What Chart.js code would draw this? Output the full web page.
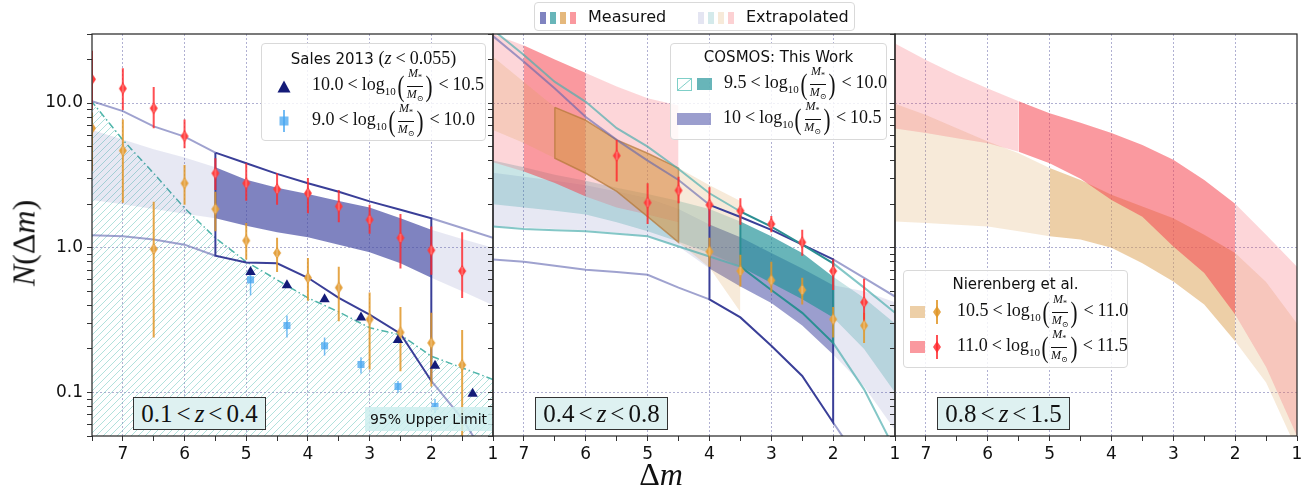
<!DOCTYPE html>
<html lang="en">
<head>
<meta charset="UTF-8">
<meta name="viewport" content="width=device-width, initial-scale=1.0">
<script src="https://cdn.jsdelivr.net/npm/chart.js"></script>
<title>N(Δm)</title>
<style>
  body { margin: 0; background: #fff; }
  #stage { position: relative; width: 1311px; height: 494px; overflow: hidden; font-family: 'DejaVu Sans', sans-serif; color: #111; }
  #stage canvas { position: absolute; left: 0; top: 0; }
  .box { position: absolute; box-sizing: border-box; background: rgba(255,255,255,0.82); border: 1px solid #d9d9d9; border-radius: 4px; z-index: 5; }
  .ttl { position: absolute; left: 0; right: 0; text-align: center; font-size: 15px; line-height: 20px; white-space: nowrap; }
  .row { position: absolute; left: 0; right: 0; height: 34px; display: flex; align-items: center; white-space: nowrap; }
  .mk { display: inline-flex; align-items: center; justify-content: center; }
  .mt { font-family: 'Liberation Serif', 'DejaVu Serif', serif; font-size: 18px; white-space: nowrap; }
  .mt sub { font-size: 11px; }
  .op { margin: 0 4px; }
  .fr { display: inline-flex; flex-direction: column; align-items: center; vertical-align: middle; font-size: 12px; line-height: 12px; margin: 0 1px; }
  .fr > span:first-child { border-bottom: 1.3px solid #111; padding: 0 1px 1px; }
  .fr > span:last-child { padding-top: 1px; }
  .fr sub { font-size: 8px; }
  .par { display: inline-block; font-size: 30px; line-height: 30px; vertical-align: middle; transform: scaleX(0.7); font-weight: 300; }
  .zbox { position: absolute; z-index: 5; box-sizing: border-box; background: #def1f1; border: 1.5px solid #333; display: flex; align-items: center; justify-content: center; font-family: 'Liberation Serif', serif; font-size: 25px; }
  .note { position: absolute; z-index: 5; background: rgba(205,238,238,0.85); font-size: 14px; display: flex; align-items: center; justify-content: center; }
  .sw { position: absolute; top: 9px; height: 12px; }
  .lbl { position: absolute; top: 4px; font-size: 16px; line-height: 20px; }
  .axt { position: absolute; z-index: 5; font-family: 'Liberation Serif', serif; white-space: nowrap; transform: translate(-50%, -50%); }
</style>
</head>
<body>
<div id="stage">
  <canvas id="p1" width="1311" height="494"></canvas>
  <canvas id="p2" width="1311" height="494"></canvas>
  <canvas id="p3" width="1311" height="494"></canvas>
</div>
<script>
// x positions shared by all the bands / lines
const DM = [7.5, 7, 6.5, 6, 5.5, 5, 4.5, 4, 3.5, 3, 2.5, 2, 1.5, 1];

// ---- panel 1 : 0.1 < z < 0.4
const p1PurpleHi  = [6.5, 5.6, 4.8, 4.2, 3.6, 2.95, 2.6, 2.35, 2.1, 1.9, 1.6, 1.33, 1.15, 1.0];
const p1PurpleLo  = [2.14, 2.0, 1.85, 1.72, 1.6, 1.42, 1.28, 1.18, 1.05, 0.93, 0.78, 0.62, 0.5, 0.4];
const p1UpperLine = [10.3, 8.8, 6.9, 5.86, 4.54, 3.84, 3.24, 2.79, 2.44, 2.09, 1.83, 1.6, 1.37, 1.17];
const p1LowerLine = [1.22, 1.2, 1.14, 1.05, 0.88, 0.79, 0.78, 0.62, 0.45, 0.345, 0.255, 0.12, 0.066, 0.03];
const p1TealLimit = [10.2, 5.56, 3.27, 1.88, 1.17, 0.8, 0.6, 0.45, 0.36, 0.28, 0.25, 0.178, 0.148, 0.123];

const nierX1 = [7.5, 7, 6.5, 6, 5.5, 5, 4.5, 4, 3.5, 3, 2.5, 2, 1.5];
const red1   = [14.6, 12.6, 9.2, 5.9, 3.27, 2.79, 2.54, 2.38, 1.93, 1.56, 1.17, 0.96, 0.69];
const red1Lo = [9.0, 8.95, 6.7, 4.87, 2.51, 2.11, 1.98, 1.73, 1.5, 1.25, 0.72, 0.65, 0.45];
const red1Hi = [23, 17.4, 12.9, 7.7, 4.16, 3.84, 3.27, 3.03, 2.51, 1.98, 1.71, 1.4, 1.28];
const org1   = [6.7, 4.69, 0.98, 2.79, 1.85, 1.12, 0.92, 0.62, 0.53, 0.32, 0.26, 0.22, 0.155];
const org1Lo = [3.4, 2.05, 0.24, 1.98, 1.3, 0.83, 0.68, 0.43, 0.31, 0.144, 0.14, 0.11, 0.04];
const org1Hi = [8.6, 7.7, 2.08, 3.73, 2.44, 1.48, 1.17, 0.85, 0.74, 0.49, 0.39, 0.355, 0.27];

const salesX   = [4.93, 4.34, 3.73, 3.14, 2.54, 1.94, 1.33];
const sales10  = [0.68, 0.55, 0.44, 0.33, 0.23, 0.153, 0.098];
const sales9X  = [4.93, 4.34, 3.73, 3.14, 2.54, 1.94];
const sales9   = [0.6, 0.29, 0.21, 0.156, 0.11, 0.08];
const sales9Lo = [0.47, 0.24, 0.18, 0.135, 0.1, 0.072];
const sales9Hi = [0.7, 0.34, 0.24, 0.175, 0.12, 0.09];

// ---- panel 2 : 0.4 < z < 0.8
const p2PurpleHi = [3.3, 3.1, 2.9, 2.7, 2.45, 2.2, 1.85, 1.45, 1.18, 0.92, 0.72, 0.55, 0.5, 0.42];
const p2PurpleLo = [1.4, 1.38, 1.35, 1.32, 1.27, 1.2, 1.02, 0.72, 0.54, 0.415, 0.29, 0.183, 0.11, 0.055];
const p2TealHi   = [4.0, 3.6, 3.2, 2.9, 2.6, 2.35, 2.1, 1.85, 1.52, 1.2, 0.92, 0.63, 0.45, 0.3];
const p2TealLo   = [2.0, 1.9, 1.8, 1.7, 1.5, 1.3, 1.1, 0.92, 0.74, 0.57, 0.44, 0.33, 0.2, 0.1];
const p2PurpleUp   = [29, 19.3, 12.6, 8.0, 5.56, 4.0, 2.94, 1.98, 1.63, 1.33, 1.05, 0.83, 0.62, 0.46];
const p2PurpleDown = [0.83, 0.8, 0.75, 0.705, 0.68, 0.65, 0.53, 0.44, 0.33, 0.21, 0.13, 0.062, 0.03, 0.02];
const p2TealUp     = [32, 21.5, 14.0, 10.2, 6.7, 5.0, 3.5, 2.38, 1.78, 1.4, 1.05, 0.78, 0.53, 0.355];
const p2TealDown   = [1.4, 1.35, 1.32, 1.3, 1.25, 1.2, 1.02, 0.87, 0.74, 0.51, 0.355, 0.22, 0.105, 0.04];

const p2TanX  = [7.5, 7, 6.5, 6, 5.5, 5, 4.5, 4, 3.5];
const p2TanHi = [20.9, 14, 9.34, 7.6, 5.56, 4.5, 3.55, 2.7, 2.1];
const p2TanLo = [6.5, 5.3, 4.16, 3.27, 2.45, 1.64, 1.09, 0.73, 0.36];
const p2PinkX  = [7.5, 7, 6.5, 6, 5.5, 5, 4.5];
const p2PinkHi = [30, 25, 20, 16.1, 13, 10.8, 9.6];
const p2PinkLo = [3.9, 3.36, 2.8, 2.26, 1.9, 1.7, 1.5];

const red2X  = [5.5, 5, 4.5, 4, 3.5, 3, 2.5, 2, 1.5];
const red2   = [4.33, 2.05, 2.49, 1.98, 1.8, 1.46, 1.09, 0.69, 0.42];
const red2Lo = [2.87, 1.46, 2.03, 1.4, 1.44, 1.28, 0.88, 0.51, 0.29];
const red2Hi = [5.56, 2.79, 3.1, 2.62, 2.2, 1.66, 1.33, 0.83, 0.61];
const org2X  = [4, 3.5, 3, 2.5, 2, 1.5];
const org2   = [0.94, 0.69, 0.595, 0.51, 0.32, 0.29];
const org2Lo = [0.74, 0.54, 0.49, 0.405, 0.24, 0.22];
const org2Hi = [1.17, 0.895, 0.8, 0.62, 0.39, 0.355];

// ---- panel 3 : 0.8 < z < 1.5
const p3PinkHi = [25.8, 19.8, 15.6, 12.6, 10.3, 8.5, 7.3, 6.2, 5.13, 4.05, 2.94, 2.01, 1.23, 0.74];
const p3PinkLo = [6.67, 6.2, 5.7, 5.28, 4.6, 3.84, 3.0, 2.14, 1.64, 1.02, 0.67, 0.345, 0.15, 0.05];
const p3TanHi  = [9.9, 8.28, 6.7, 5.42, 4.5, 3.55, 2.94, 2.32, 1.93, 1.6, 1.23, 0.92, 0.58, 0.3];
const p3TanLo  = [1.52, 1.48, 1.44, 1.4, 1.3, 1.2, 1.14, 1.0, 0.78, 0.585, 0.405, 0.226, 0.117, 0.04];

// legend / label text
const zBins = [['0.1', '0.4'], ['0.4', '0.8'], ['0.8', '1.5']];
const salesBins = [['10.0', '10.5'], ['9.0', '10.0']];
const cosmosBins = [['9.5', '10.0'], ['10', '10.5']];
const nierBins = [['10.5', '11.0'], ['11.0', '11.5']];

// colours
const purpleMeas = 'rgba(72,78,165,0.7)';
const purpleMeas2 = 'rgba(72,78,165,0.55)';
const purpleExt = 'rgba(72,78,165,0.13)';
const tealMeas = 'rgba(40,150,155,0.7)';
const tealExt = 'rgba(40,150,155,0.25)';
const tanMeas = 'rgba(220,160,80,0.5)';
const tanMeas2 = 'rgba(215,150,70,0.6)';
const tanExt = 'rgba(220,160,80,0.22)';
const pinkMeas = 'rgba(245,70,80,0.55)';
const pinkExt = 'rgba(245,70,80,0.22)';
const navy = '#3a3f98';
const lightPurpleLine = 'rgba(95,100,175,0.6)';
const lightTealLine = 'rgba(80,175,175,0.7)';
const darkTeal = '#2b8f93';
const tanEdge = 'rgba(180,120,55,0.7)';
const redCol = 'rgba(255,40,45,0.82)';
const orangeCol = 'rgba(225,150,40,0.85)';
const skyCol = 'rgba(70,165,240,0.75)';
const navyPt = '#141b78';
const gridCol = 'rgba(150,150,195,0.75)';
const tickFont = { family: 'DejaVu Sans', size: 17 };

const xy = (xs, ys) => xs.map((x, i) => ({ x: x, y: ys[i] }));
function cut(xs, ys, a, b) {
  const i0 = xs.indexOf(a), i1 = xs.indexOf(b);
  return xy(xs.slice(i0, i1 + 1), ys.slice(i0, i1 + 1));
}
const clear = 'rgba(0,0,0,0)';

function bandSet(xs, hi, lo, from, to, col) {
  return [
    { data: cut(xs, hi, from, to).reverse(), borderColor: clear, borderWidth: 0, fill: false },
    { data: cut(xs, lo, from, to).reverse(), borderColor: clear, borderWidth: 0, fill: '-1', backgroundColor: col }
  ];
}
function splitBand(xs, hi, lo, m0, m1, ext, meas) {
  const first = xs[0], last = xs[xs.length - 1];
  let out = [];
  if (m0 !== first) out = out.concat(bandSet(xs, hi, lo, first, m0, ext));
  out = out.concat(bandSet(xs, hi, lo, m0, m1, meas));
  if (m1 !== last) out = out.concat(bandSet(xs, hi, lo, m1, last, ext));
  return out;
}
function lineSet(points, color, width, dash) {
  return { data: points, borderColor: color, borderWidth: width, borderDash: dash || [], fill: false };
}
function splitLine(xs, ys, m0, m1, color) {
  return [lineSet(cut(xs, ys, xs[0], m0), color, 2), lineSet(cut(xs, ys, m1, xs[xs.length - 1]), color, 2)];
}
function outline(xs, hi, lo, m0, m1, color, width) {
  const up = cut(xs, hi, m0, m1), dn = cut(xs, lo, m0, m1).reverse();
  return lineSet(up.concat(dn, [up[0]]), color, width);
}
function errBars(xs, lo, hi, color, w) {
  const pts = [];
  xs.forEach((x, i) => pts.push({ x: x, y: lo[i] }, { x: x, y: hi[i] }, { x: x, y: null }));
  return { data: pts, borderColor: color, borderWidth: w, fill: false, spanGaps: false };
}
function markers(xs, ys, style, color, r) {
  return { data: xy(xs, ys), showLine: false, pointStyle: style, pointRadius: r || 5,
           pointBackgroundColor: color, pointBorderColor: color, pointBorderWidth: 0 };
}
function thinDiamond(color) {
  const c = document.createElement('canvas');
  c.width = 10; c.height = 14;
  const g = c.getContext('2d');
  g.fillStyle = color;
  g.beginPath(); g.moveTo(5, 1); g.lineTo(9, 7); g.lineTo(5, 13); g.lineTo(1, 7); g.closePath(); g.fill();
  g.strokeStyle = 'rgba(255,255,255,0.45)'; g.lineWidth = 1;
  g.beginPath(); g.moveTo(5, 3); g.lineTo(5, 11); g.stroke();
  return c;
}
function hatch(color) {
  const c = document.createElement('canvas');
  c.width = 7; c.height = 7;
  const g = c.getContext('2d');
  g.strokeStyle = color; g.lineWidth = 1;
  g.beginPath();
  g.moveTo(0, 7); g.lineTo(7, 0);
  g.moveTo(-1, 1); g.lineTo(1, -1);
  g.moveTo(6, 8); g.lineTo(8, 6);
  g.stroke();
  return g.createPattern(c, 'repeat');
}

function isDecade(v) { const l = Math.log10(v); return Math.abs(l - Math.round(l)) < 1e-6; }
function wholeMantissa(v) {
  const m = v / Math.pow(10, Math.floor(Math.log10(v) + 1e-9));
  return Math.abs(m - Math.round(m)) < 1e-6;
}

const frame = {
  id: 'frame',
  afterDatasetsDraw(chart) {
    const a = chart.chartArea, c = chart.ctx;
    c.save();
    c.strokeStyle = '#222'; c.lineWidth = 1.2;
    c.strokeRect(a.left, a.top, a.right - a.left, a.bottom - a.top);
    c.restore();
  }
};

function panel(id, left, right, datasets, showY) {
  datasets.forEach((d, i) => {
    d.order = datasets.length - i;
    if (d.pointRadius === undefined) d.pointRadius = 0;
    d.tension = 0;
  });
  return new Chart(document.getElementById(id), {
    type: 'line',
    data: { datasets: datasets },
    plugins: [frame],
    options: {
      responsive: false, animation: false, devicePixelRatio: 1,
      layout: { padding: { left: 0, right: 1311 - right, top: 34, bottom: 0 } },
      plugins: { legend: { display: false }, tooltip: { enabled: false } },
      scales: {
        x: {
          type: 'linear', reverse: true, min: 1, max: 7.5,
          afterFit(s) { s.height = 58; },
          ticks: { stepSize: 0.5, autoSkip: false, maxRotation: 0, padding: 3, color: '#111', font: tickFont,
                   callback: v => Number.isInteger(v) ? String(v) : '' },
          grid: { color: c => (c.tick && Number.isInteger(c.tick.value) && c.tick.value > 1) ? gridCol : clear,
                  tickColor: '#333', tickLength: 5, lineWidth: 1 },
          border: { display: false, dash: [2, 2] }
        },
        y: {
          type: 'logarithmic', min: 0.05, max: 30,
          afterFit(s) { s.width = left; },
          afterBuildTicks(s) { s.ticks = s.ticks.filter(t => wholeMantissa(t.value)); },
          ticks: { display: showY, autoSkip: false, padding: 4, color: '#111', font: tickFont,
                   callback: v => isDecade(v) ? v.toFixed(1) : '' },
          grid: { color: c => (c.tick && isDecade(c.tick.value)) ? gridCol : clear,
                  tickColor: '#333', tickLength: 5, lineWidth: 1 },
          border: { display: false, dash: [2, 2] }
        }
      }
    }
  });
}

const redD = thinDiamond('rgb(255,60,60)');
const orgD = thinDiamond('rgb(228,160,60)');

// panel 1
const ds1 = [].concat(
  [{ data: xy(DM, p1TealLimit).reverse(), borderColor: '#4fb5aa', borderWidth: 1.5, borderDash: [7, 3, 1.5, 3],
     fill: 'start', backgroundColor: hatch('rgba(100,195,185,0.5)') }],
  splitBand(DM, p1PurpleHi, p1PurpleLo, 5.5, 2, purpleExt, purpleMeas),
  splitLine(DM, p1UpperLine, 5.5, 2, lightPurpleLine),
  splitLine(DM, p1LowerLine, 5.5, 2, lightPurpleLine),
  [outline(DM, p1UpperLine, p1LowerLine, 5.5, 2, navy, 2)],
  [errBars(sales9X, sales9Lo, sales9Hi, skyCol, 1.5),
   errBars(nierX1, org1Lo, org1Hi, orangeCol, 2),
   errBars(nierX1, red1Lo, red1Hi, redCol, 2)],
  [markers(sales9X, sales9, 'rect', skyCol, 5),
   markers(salesX, sales10, 'triangle', navyPt, 6),
   markers(nierX1, org1, orgD),
   markers(nierX1, red1, redD)]
);
panel('p1', 92, 493, ds1, true);

// panel 2
const ds2 = [].concat(
  splitBand(DM, p2PurpleHi, p2PurpleLo, 4, 2, purpleExt, purpleMeas2),
  splitBand(DM, p2TealHi, p2TealLo, 3.5, 2, tealExt, tealMeas),
  splitBand(p2PinkX, p2PinkHi, p2PinkLo, 7, 6, pinkExt, pinkMeas),
  splitBand(p2TanX, p2TanHi, p2TanLo, 6.5, 4.5, tanExt, tanMeas2),
  [outline(p2TanX, p2TanHi, p2TanLo, 6.5, 4.5, tanEdge, 1.5)],
  splitLine(DM, p2PurpleUp, 4, 2, lightPurpleLine),
  splitLine(DM, p2PurpleDown, 4, 2, lightPurpleLine),
  splitLine(DM, p2TealUp, 3.5, 2, lightTealLine),
  splitLine(DM, p2TealDown, 3.5, 2, lightTealLine),
  [outline(DM, p2PurpleUp, p2PurpleDown, 4, 2, navy, 2),
   outline(DM, p2TealUp, p2TealDown, 3.5, 2, darkTeal, 2)],
  [errBars(org2X, org2Lo, org2Hi, orangeCol, 2), errBars(red2X, red2Lo, red2Hi, redCol, 2)],
  [markers(org2X, org2, orgD), markers(red2X, red2, redD)]
);
panel('p2', 493, 895, ds2, false);

// panel 3
const ds3 = [].concat(
  splitBand(DM, p3TanHi, p3TanLo, 5, 2, tanExt, tanMeas),
  splitBand(DM, p3PinkHi, p3PinkLo, 5.5, 2, pinkExt, pinkMeas)
);
panel('p3', 895, 1297, ds3, false);

// ---- text overlays
const stage = document.getElementById('stage');
function addDiv(cls, style, html) {
  const d = document.createElement('div');
  d.className = cls; d.style.cssText = style; d.innerHTML = html;
  stage.appendChild(d);
  return d;
}
function massHTML(bin) {
  return '<span class="mt">' + bin[0] + '<span class="op">&lt;</span>log<sub>10</sub>' +
    '<span class="par">(</span><span class="fr"><span><i>M</i><sub>*</sub></span><span><i>M</i><sub>⊙</sub></span></span>' +
    '<span class="par">)</span><span class="op">&lt;</span>' + bin[1] + '</span>';
}
const triSVG = '<svg width="14" height="13"><polygon points="7,0.5 13.5,12.5 0.5,12.5" fill="' + navyPt + '"/></svg>';
const sqSVG = '<svg width="12" height="22"><line x1="6" y1="0" x2="6" y2="22" stroke="' + skyCol + '" stroke-width="2"/>' +
  '<rect x="1.5" y="6.5" width="9" height="9" fill="' + skyCol + '"/></svg>';
function diaSVG(col) {
  return '<svg width="10" height="24"><line x1="5" y1="0" x2="5" y2="24" stroke="' + col + '" stroke-width="2"/>' +
    '<polygon points="5,6 9,12 5,18 1,12" fill="' + col + '"/></svg>';
}
const hatchSVG = '<svg width="15" height="13"><rect x="0.5" y="0.5" width="14" height="12" fill="none" stroke="#7fcfc8"/>' +
  '<line x1="1" y1="12" x2="14" y2="1" stroke="#7fcfc8"/></svg>';
function patch(col, w) { return '<span style="display:inline-block;width:' + w + 'px;height:12px;background:' + col + '"></span>'; }

// top legend
const measCols = [purpleMeas, tealMeas, 'rgba(220,160,80,0.75)', pinkMeas];
const extCols = ['rgba(72,78,165,0.15)', 'rgba(40,150,155,0.2)', 'rgba(220,160,80,0.22)', 'rgba(245,70,80,0.25)'];
let legendHtml = '';
measCols.forEach((c, i) => { legendHtml += '<span class="sw" style="left:' + (5 + i * 10) + 'px;width:6px;background:' + c + '"></span>'; });
legendHtml += '<span class="lbl" style="left:53px">Measured</span>';
extCols.forEach((c, i) => { legendHtml += '<span class="sw" style="left:' + (163 + i * 10) + 'px;width:6px;background:' + c + '"></span>'; });
legendHtml += '<span class="lbl" style="left:211px">Extrapolated</span>';
addDiv('box', 'left:534px;top:2px;width:321px;height:29px;', legendHtml);

// panel legends
addDiv('box', 'left:261px;top:43px;width:225px;height:98px;',
  '<div class="ttl" style="top:4px">Sales 2013 <span class="mt">(<i>z</i><span class="op">&lt;</span>0.055)</span></div>' +
  '<div class="row" style="top:25px"><span class="mk" style="width:44px;margin-right:6px">' + triSVG + '</span>' + massHTML(salesBins[0]) + '</div>' +
  '<div class="row" style="top:60px"><span class="mk" style="width:44px;margin-right:6px">' + sqSVG + '</span>' + massHTML(salesBins[1]) + '</div>');

addDiv('box', 'left:670px;top:43px;width:217px;height:97px;',
  '<div class="ttl" style="top:3px">COSMOS: This Work</div>' +
  '<div class="row" style="top:23px"><span class="mk" style="margin-left:6px;width:15px">' + hatchSVG + '</span>' +
  '<span class="mk" style="margin-left:5px;margin-right:12px">' + patch(tealMeas, 15) + '</span>' + massHTML(cosmosBins[0]) + '</div>' +
  '<div class="row" style="top:58px"><span class="mk" style="margin-left:6px;margin-right:12px">' + patch(purpleMeas2, 34) + '</span>' + massHTML(cosmosBins[1]) + '</div>');

addDiv('box', 'left:903px;top:270px;width:225px;height:98px;',
  '<div class="ttl" style="top:3px">Nierenberg et al.</div>' +
  '<div class="row" style="top:24px"><span class="mk" style="margin-left:6px">' + patch(tanMeas, 15) + '</span>' +
  '<span class="mk" style="margin-left:7px;margin-right:15px">' + diaSVG(orangeCol) + '</span>' + massHTML(nierBins[0]) + '</div>' +
  '<div class="row" style="top:59px"><span class="mk" style="margin-left:6px">' + patch(pinkMeas, 15) + '</span>' +
  '<span class="mk" style="margin-left:7px;margin-right:15px">' + diaSVG(redCol) + '</span>' + massHTML(nierBins[1]) + '</div>');

// redshift boxes
const zLeft = [133, 535, 937];
zBins.forEach((b, i) => {
  addDiv('zbox', 'left:' + zLeft[i] + 'px;top:397px;width:133px;height:33px;',
    b[0] + '<span class="op">&lt;</span><i>z</i><span class="op">&lt;</span>' + b[1]);
});
addDiv('note', 'left:365px;top:407px;width:127px;height:24px;', '95% Upper Limit');

// axis titles
addDiv('axt', 'left:24px;top:243px;font-size:32px;transform:translate(-50%,-50%) rotate(-90deg);', '<i>N</i>(Δ<i>m</i>)');
addDiv('axt', 'left:661px;top:474px;font-size:32px;', 'Δ<i>m</i>');
</script>
</body>
</html>
